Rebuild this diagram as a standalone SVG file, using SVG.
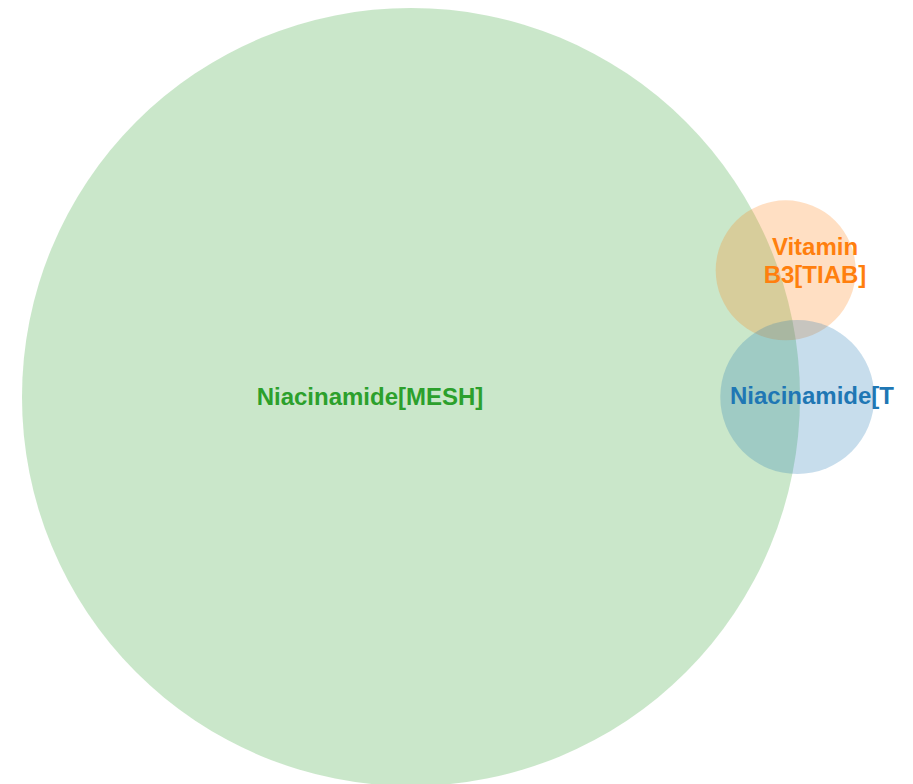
<svg xmlns="http://www.w3.org/2000/svg" width="913" height="784" viewBox="0 0 913 784">
<style>
.c{fill-opacity:0.25}
.t{font-family:"Liberation Sans",Arial,sans-serif;font-size:24px;font-weight:bold;text-anchor:middle}
</style>
<rect width="913" height="784" fill="#fff"/>
<g id="mesh"><circle class="c" cx="411" cy="397" r="389" fill="#2ca02c"/><text class="t" x="370" y="405" fill="#2ca02c">Niacinamide[MESH]</text></g>
<g id="vitb3"><circle class="c" cx="785.7" cy="270.3" r="70" fill="#ff7f0e"/><text class="t" x="815" y="255" fill="#ff7f0e">Vitamin</text><text class="t" x="815" y="283" fill="#ff7f0e">B3[TIAB]</text></g>
<g id="niat"><circle class="c" cx="797.3" cy="397" r="77" fill="#1f77b4"/><text class="t" x="812" y="404" fill="#1f77b4">Niacinamide[T</text></g>
<g id="connectors"/>
</svg>
